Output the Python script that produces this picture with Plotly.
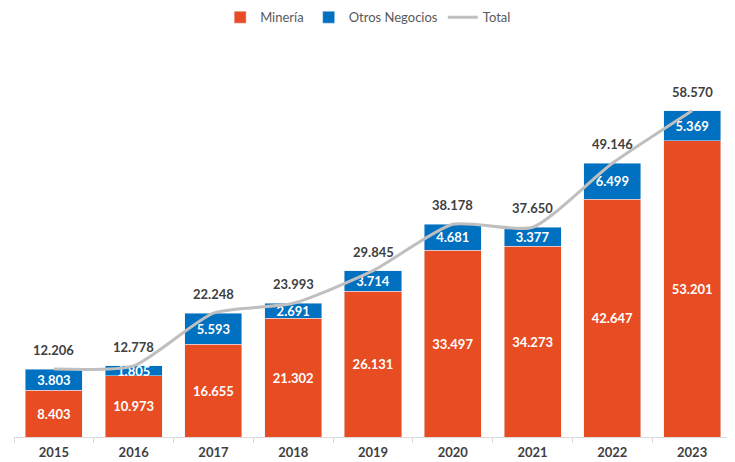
import plotly.graph_objects as go

years = ['2015', '2016', '2017', '2018', '2019', '2020', '2021', '2022', '2023']
mineria = [8403, 10973, 16655, 21302, 26131, 33497, 34273, 42647, 53201]
otros = [3803, 1805, 5593, 2691, 3714, 4681, 3377, 6499, 5369]
total = [12206, 12778, 22248, 23993, 29845, 38178, 37650, 49146, 58570]


def fmt(v):
    return f'{v:,}'.replace(',', '.')


orange = '#E84C22'
blue = '#0070C0'
gray = '#BFBFBF'
font = 'Lato, Open Sans, sans-serif'

fig = go.Figure()
fig.add_trace(go.Bar(x=years, y=mineria, name='Minería', marker=dict(color=orange),
                     text=[fmt(v) for v in mineria], textposition='inside',
                     insidetextanchor='middle',
                     textfont=dict(color='white', size=13, family=font, weight='bold')))
fig.add_trace(go.Bar(x=years, y=otros, name='Otros Negocios', marker=dict(color=blue),
                     text=[fmt(v) for v in otros], textposition='inside',
                     insidetextanchor='middle',
                     textfont=dict(color='white', size=13, family=font, weight='bold')))
fig.add_trace(go.Scatter(x=years, y=total, name='Total', mode='lines',
                         line=dict(color=gray, width=3, shape='spline', smoothing=0.6)))

# category axis: place total labels by category index
for i, t in enumerate(total):
    fig.add_annotation(x=i, y=t, text=fmt(t), showarrow=False, yshift=19,
                       font=dict(color='#404040', size=13, family=font, weight='bold'))

# the page body adds an 8px offset, so margins are shifted to compensate
fig.update_layout(
    width=735, height=462,
    barmode='stack', bargap=0.285,
    plot_bgcolor='white', paper_bgcolor='white',
    margin=dict(l=6, r=11, t=39, b=33, autoexpand=False),
    uniformtext=dict(minsize=13, mode='show'),
    legend=dict(orientation='h', x=0.49, xanchor='center', xref='container',
                y=0.98, yanchor='middle', yref='container',
                font=dict(color='#595959', size=13, family=font), traceorder='normal'),
    xaxis=dict(type='category', categoryorder='array', categoryarray=years,
               range=[-0.5, 8.5], showline=True, linecolor='#D9D9D9', ticks='outside',
               tickson='boundaries', ticklen=5, tickcolor='#D9D9D9',
               ticklabelstandoff=3,
               tickfont=dict(color='#404040', size=13, family=font, weight='bold')),
    yaxis=dict(range=[0, 70000], visible=False),
)

fig.write_html('out.html')
